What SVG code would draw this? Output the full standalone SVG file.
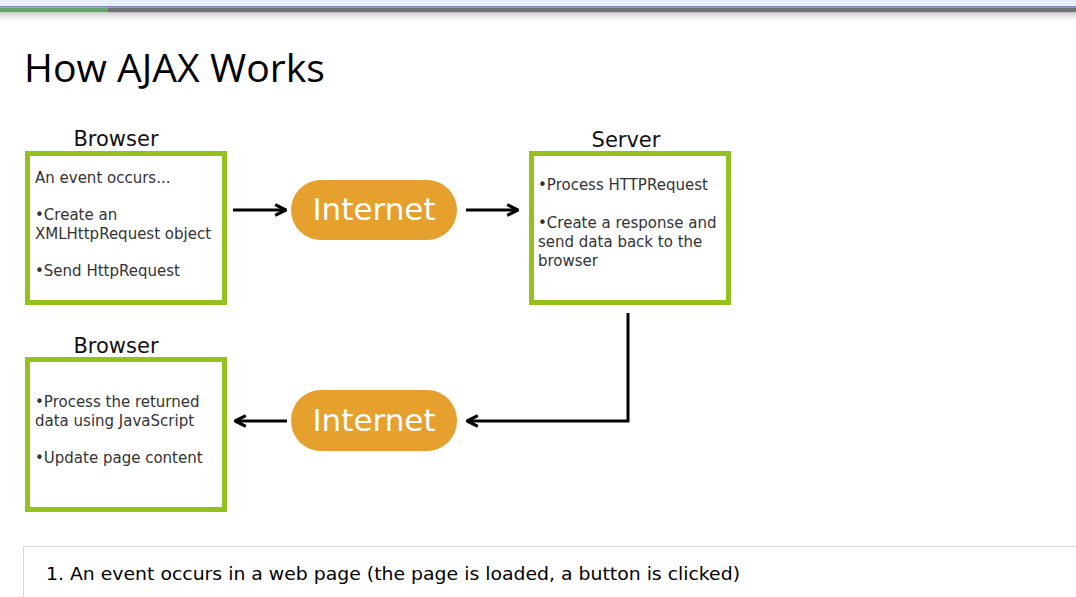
<svg xmlns="http://www.w3.org/2000/svg" width="1076" height="597" viewBox="0 0 1076 597">
<style>
.box{fill:#fff;stroke:#95c11f;stroke-width:5}
.pill{fill:#e5a02e}
.hdr{font-family:"DejaVu Sans",Verdana,sans-serif;font-size:21px;fill:#111;text-anchor:middle}
.txt{font-family:"DejaVu Sans",Verdana,sans-serif;font-size:15px;fill:#333}
.net{font-family:"DejaVu Sans",Verdana,sans-serif;font-size:31px;fill:#fff;text-anchor:middle}
.conn{fill:none;stroke:#000;stroke-width:3}
</style>
<defs>
<linearGradient id="shadow" x1="0" y1="0" x2="0" y2="1">
<stop offset="0" stop-color="#d0d0d0"/>
<stop offset="1" stop-color="#ffffff"/>
</linearGradient>
<marker id="arr" viewBox="0 0 10 10" refX="9" refY="5" markerWidth="4.5" markerHeight="4.5" orient="auto" markerUnits="strokeWidth">
<path d="M1,1 L9,5 L1,9" fill="none" stroke="#000" stroke-width="2.4"/>
</marker>
</defs>
<rect width="1076" height="597" fill="#fff"/>
<rect x="0" y="0" width="1076" height="6" fill="#e8eefb"/>
<rect x="0" y="6" width="1076" height="1.5" fill="#7a8fb5"/>
<rect x="0" y="7.5" width="108" height="5" fill="#66a66c"/>
<rect x="108" y="7.5" width="968" height="5" fill="#707172"/>
<rect x="0" y="12.5" width="1076" height="8" fill="url(#shadow)"/>
<text x="24" y="82" font-family="'Open Sans','Noto Sans',sans-serif" font-size="38" fill="#000" textLength="301" lengthAdjust="spacingAndGlyphs">How AJAX Works</text>

<g id="connectors">
<line class="conn" x1="233" y1="210" x2="286" y2="210" marker-end="url(#arr)"/>
<line class="conn" x1="466" y1="210" x2="518" y2="210" marker-end="url(#arr)"/>
<polyline class="conn" points="628,313 628,421 467,421" marker-end="url(#arr)"/>
<line class="conn" x1="287" y1="421" x2="235" y2="421" marker-end="url(#arr)"/>
</g>

<g id="browser1">
<text class="hdr" x="116" y="146">Browser</text>
<rect class="box" x="27.5" y="153.5" width="197" height="149"/>
<text class="txt" x="35" y="183">An event occurs...</text>
<text class="txt" x="35" y="220">•Create an</text>
<text class="txt" x="35" y="239">XMLHttpRequest object</text>
<text class="txt" x="35" y="276">•Send HttpRequest</text>
</g>

<g id="internet1">
<rect class="pill" x="291" y="180" width="166" height="60" rx="30"/>
<text class="net" x="374" y="220">Internet</text>
</g>

<g id="server">
<text class="hdr" x="626" y="147">Server</text>
<rect class="box" x="531.5" y="153.5" width="197" height="149"/>
<text class="txt" x="538" y="190">•Process HTTPRequest</text>
<text class="txt" x="538" y="228">•Create a response and</text>
<text class="txt" x="538" y="247">send data back to the</text>
<text class="txt" x="538" y="266">browser</text>
</g>

<g id="internet2">
<rect class="pill" x="291" y="390" width="166" height="61" rx="30"/>
<text class="net" x="374" y="431">Internet</text>
</g>

<g id="browser2">
<text class="hdr" x="116" y="353">Browser</text>
<rect class="box" x="27.5" y="359.5" width="197" height="150"/>
<text class="txt" x="35" y="407">•Process the returned</text>
<text class="txt" x="35" y="426">data using JavaScript</text>
<text class="txt" x="35" y="463">•Update page content</text>
</g>

<g id="step1">
<rect x="23.5" y="546.5" width="1060" height="60" fill="#fff" stroke="#d6d6d6" stroke-width="1"/>
<text x="46" y="580" font-family="'DejaVu Sans',Verdana,sans-serif" font-size="17" fill="#000" textLength="694" lengthAdjust="spacingAndGlyphs">1. An event occurs in a web page (the page is loaded, a button is clicked)</text>
</g>
</svg>
